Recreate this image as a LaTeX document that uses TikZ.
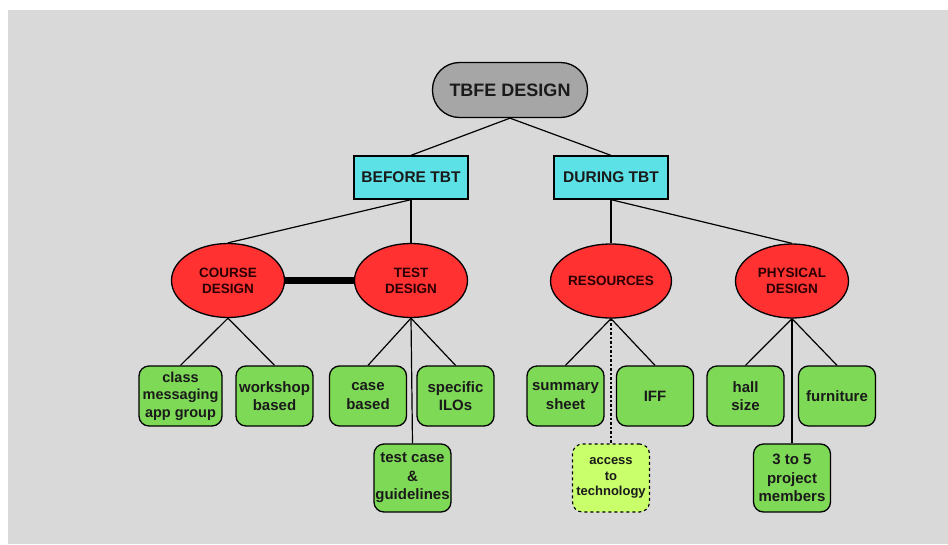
\documentclass[tikz,border=0pt]{standalone}
\usepackage{fontspec}
\setmainfont{Liberation Sans}
\usetikzlibrary{shapes.geometric}
\pgfdeclarelayer{bg}
\pgfdeclarelayer{edges}
\pgfsetlayers{bg,edges,main}
\definecolor{bggray}{HTML}{D9D9D9}
\definecolor{pillgray}{HTML}{A6A6A6}
\definecolor{cyanbox}{HTML}{5CE1E6}
\definecolor{redell}{HTML}{FF3131}
\definecolor{greenbox}{HTML}{7ED957}
\definecolor{lightgreen}{HTML}{C9FF6B}
\definecolor{txt}{HTML}{1A1A1A}
\definecolor{redtxt}{HTML}{2A0000}
\tikzset{
  pill/.style={draw=black, line width=1.3pt, fill=pillgray, rounded corners=27pt,
    minimum width=155pt, minimum height=55pt, inner sep=0pt, text=txt,
    font=\fontsize{18}{21}\selectfont\bfseries},
  phase/.style={draw=black, line width=1.3pt, fill=cyanbox,
    minimum width=114pt, minimum height=43pt, inner sep=0pt, text=txt,
    font=\fontsize{15.5}{18}\selectfont\bfseries},
  area/.style={ellipse, draw=black, line width=1.3pt, fill=redell,
    minimum width=113pt, minimum height=74pt, inner sep=0pt, align=center, text=redtxt,
    font=\fontsize{13.5}{16}\selectfont\bfseries},
  item/.style={draw=black, line width=1.3pt, fill=greenbox, rounded corners=10pt,
    minimum width=77pt, minimum height=60pt, inner sep=0pt, align=center, text=txt,
    font=\fontsize{15}{18.5}\selectfont\bfseries},
  itemtall/.style={item, minimum height=68pt},
  optitem/.style={itemtall, dashed, fill=lightgreen, line width=1.1pt,
    font=\fontsize{13}{15.7}\selectfont\bfseries},
  link/.style={draw=black, line width=1.2pt},
  dashlink/.style={draw=black, line width=1.1pt, dash pattern=on 2.5pt off 2pt},
  thicklink/.style={draw=black, line width=7pt, line cap=round}
}
\begin{document}
\begin{tikzpicture}[x=1pt, y=-1pt]
\useasboundingbox (0,0) rectangle (948,544);
\begin{pgfonlayer}{bg}
  \fill[white] (0,0) rectangle (948,544);
  \fill[bggray] (8,10) rectangle (948,544);
\end{pgfonlayer}

\node[pill] (root) at (510,90) {TBFE DESIGN};
\node[phase] (before) at (411,177.5) {BEFORE TBT};
\node[phase] (during) at (611,177.5) {DURING TBT};

\node[area] (course) at (228,280.5) {COURSE\\DESIGN};
\node[area] (test) at (411,280.5) {TEST\\DESIGN};
\node[area] (res) at (611,281) {RESOURCES};
\node[area] (phys) at (792,281) {PHYSICAL\\DESIGN};

\node[item, minimum width=83pt, font=\fontsize{14.5}{17.3}\selectfont\bfseries] (class) at (180.5,396) {class\\messaging\\app group};
\node[item] (workshop) at (274.5,396) {workshop\\based};
\node[item] (case) at (368,396) {case\\based};
\node[item] (ilos) at (455.5,396) {specific\\ILOs};
\node[itemtall] (guide) at (412.5,478) {test case\\\&\\guidelines};

\node[item] (summary) at (565.5,396) {summary\\sheet};
\node[item] (iff) at (655,396) {IFF};
\node[item] (hall) at (745.5,396) {hall\\size};
\node[item] (furn) at (837,396) {furniture};
\node[optitem] (access) at (611,478) {access\\to\\technology};
\node[itemtall] (members) at (792,478) {3 to 5\\project\\members};

\begin{pgfonlayer}{edges}
  \draw[link] (root.south) -- (before.north);
  \draw[link] (root.south) -- (during.north);
  \draw[link] (before.south) -- (course.north);
  \draw[link] (before.south) -- (test.north);
  \draw[link] (during.south) -- (res.north);
  \draw[link] (during.south) -- (phys.north);
  \draw[thicklink] (course.east) -- (test.west);
  \draw[link] (course.south) -- (class.north);
  \draw[link] (course.south) -- (workshop.north);
  \draw[link] (test.south) -- (case.north);
  \draw[link] (test.south) -- (ilos.north);
  \draw[link] (test.south) -- (guide.north);
  \draw[link] (res.south) -- (summary.north);
  \draw[link] (res.south) -- (iff.north);
  \draw[dashlink] (res.south) -- (access.north);
  \draw[link] (phys.south) -- (hall.north);
  \draw[link] (phys.south) -- (furn.north);
  \draw[link] (phys.south) -- (members.north);
\end{pgfonlayer}
\end{tikzpicture}
\end{document}
